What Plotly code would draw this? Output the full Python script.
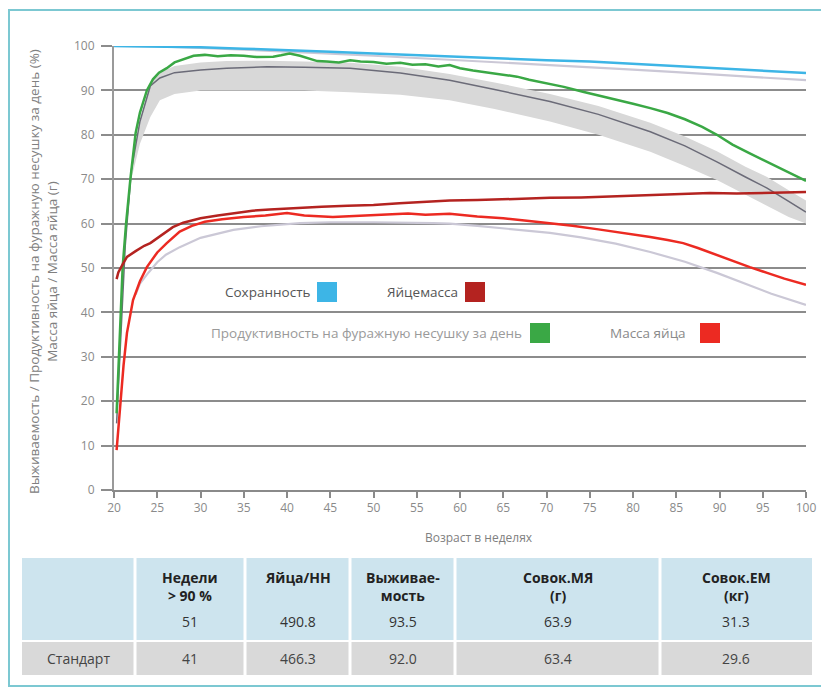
import plotly.graph_objects as go

# ---------------- data ----------------
weeks_viab = [20, 25, 30, 35, 40, 45, 50, 55, 60, 65, 70, 75, 80, 85, 90, 95, 100]
viability = [100, 99.9, 99.7, 99.4, 99.1, 98.7, 98.3, 97.9, 97.5, 97.1, 96.8, 96.5, 96.0, 95.5, 95.0, 94.5, 93.9]
std_viability = [100, 99.9, 99.6, 99.2, 98.8, 98.3, 97.8, 97.3, 96.8, 96.3, 95.8, 95.3, 94.7, 94.1, 93.5, 92.9, 92.3]

weeks_prod = [20.3, 20.6, 21.0, 21.4, 21.9, 22.5, 23.0, 23.8, 24.5, 25.2, 26.1, 27.0, 28.0, 29.2, 30.5,
              32, 33.5, 35, 36.5, 38.4, 39.3, 40.3, 41.5, 42.5, 43.5, 44.6, 46, 47.3, 48.5, 50,
              51.5, 53.1, 54.5, 56, 57.5, 58.8, 60, 61.5, 63, 64.5, 66.6, 68, 70, 72, 74.2,
              76, 78, 80, 82, 84, 86, 88, 89.7, 91.5, 93.5, 95.5, 97.5, 100]
production = [17.3, 30, 50.2, 60.1, 70.2, 80.4, 85, 90, 92.5, 94, 95, 96.3, 97, 97.8, 98,
              97.7, 97.9, 97.8, 97.5, 97.6, 97.9, 98.3, 97.8, 97.2, 96.6, 96.5, 96.3, 96.8, 96.5, 96.4,
              96.0, 96.2, 95.8, 95.9, 95.4, 95.7, 95.0, 94.5, 94.1, 93.8, 93.1, 92.4, 91.6, 90.8, 89.7,
              88.9, 88.0, 87.0, 86.0, 84.9, 83.5, 81.8, 80.0, 77.8, 75.8, 73.9, 71.9, 69.6]

weeks_std = [20.3, 20.8, 21.3, 22, 22.5, 23, 24.2, 25.3, 27, 30, 33, 37.7, 42, 47.3, 53.1, 58.8,
             64, 70.4, 76, 82, 86, 89.7, 93, 95.5, 98, 100]
std_production = [15, 35, 55, 72, 78, 83, 91, 92.8, 94, 94.6, 95, 95.3, 95.2, 95, 93.9, 92.3,
                  90.2, 87.5, 84.6, 80.7, 77.5, 73.9, 70.5, 68, 65, 62.6]
std_prod_high = [15, 35, 55, 72, 78, 83, 91.8, 94, 95.5, 96.3, 96.6, 96.7, 96.5, 96.2, 95.3, 93.7,
                 91.8, 89.2, 86.5, 82.7, 79.6, 76.3, 72.8, 70.5, 67.5, 65.2]
std_prod_low = [15, 35, 55, 70, 74, 78, 84, 87.8, 89.2, 90, 90, 90, 90, 89.6, 89, 87.8,
                85.8, 83, 80, 76.2, 73, 69.8, 66.5, 64, 61.5, 60]

weeks_em = [20.3, 20.5, 21, 21.5, 22.5, 23.5, 24.2, 25.5, 26.8, 28, 30, 32, 34, 36, 38, 40, 41.5,
            44, 47, 50, 53, 56, 58.8, 62, 65, 68, 70.4, 74, 78, 82, 85, 88.9, 92, 95, 97, 100]
egg_mass = [47.5, 49, 50.8, 52.5, 53.8, 55, 55.6, 57.5, 59.2, 60.2, 61.2, 61.8, 62.4, 62.9, 63.2, 63.4, 63.7,
            63.8, 64.0, 64.2, 64.6, 64.9, 65.2, 65.3, 65.5, 65.6, 65.8, 65.9, 66.2, 66.4, 66.6, 66.9, 66.8,
            66.9, 67.0, 67.1]

weeks_ew = [20.3, 20.5, 20.77, 21.1, 21.5, 22.2, 23, 23.8, 25, 26.1, 27.6, 29, 30.5, 32.5, 35, 37.5,
            40, 42, 45.3, 48, 51, 54, 56, 58.8, 62, 65, 68, 70.4, 73, 76, 79, 82, 84, 85.8, 87.5,
            89.7, 91.5, 93.5, 95.5, 97.5, 100]
egg_weight = [9, 14, 20.3, 28, 35.4, 42.8, 47, 50.2, 53.5, 55.6, 58.2, 59.5, 60.4, 61.0, 61.5, 61.8,
              62.4, 61.8, 61.5, 61.7, 62.0, 62.3, 62.0, 62.2, 61.6, 61.2, 60.6, 60.1, 59.5, 58.7, 57.9,
              57.0, 56.3, 55.6, 54.5, 52.9, 51.5, 50.2, 48.9, 47.6, 46.2]

weeks_sew = [22.5, 23, 24, 25, 26, 27.6, 30, 33.8, 37, 41.5, 45, 50, 56.9, 58.8, 62, 66, 70.4,
             74, 78, 82, 86, 89.7, 93, 96, 100]
std_egg_weight = [44, 46.5, 49, 51.3, 53, 54.7, 56.8, 58.6, 59.4, 60.1, 60.3, 60.3, 60.1, 60.0, 59.5,
                  58.8, 57.9, 56.9, 55.5, 53.6, 51.4, 48.9, 46.4, 44.2, 41.7]

x_ticks = list(range(20, 101, 5))
y_ticks = list(range(0, 101, 10))

legend_labels = ["Сохранность", "Яйцемасса", "Продуктивность на фуражную несушку за день", "Масса яйца"]

table_headers = ["", "Недели<br>> 90 %", "Яйца/НН", "Выживае-<br>мость", "Совок.МЯ<br>(г)", "Совок.ЕМ<br>(кг)"]
table_row_result = ["", "51", "490.8", "93.5", "63.9", "31.3"]
table_row_standard = ["Стандарт", "41", "466.3", "92.0", "63.4", "29.6"]

# ---------------- styles ----------------
C_CYAN = "#3db5e6"
C_GREEN = "#3aa845"
C_DARKRED = "#b42320"
C_RED = "#ec2a22"
C_STD = "#cbc8d6"
C_BAND = "#d8d8d8"
C_STDLINE = "#6b6b78"
FONT = "Open Sans"

# the page puts the figure 8 px from the top-left corner of the window
OFF = 8
W, H = 829 - OFF, 689 - OFF
L, R, T, B = 114 - OFF, 23, 46 - OFF, 199
PW, PH = W - L - R, H - T - B


def px(X):
    """screen x (window px) -> paper fraction"""
    return (X - OFF - L) / PW


def py(Y):
    """screen y (window px) -> paper fraction"""
    return (H - B - (Y - OFF)) / PH


fig = go.Figure()

# standard production band
fig.add_trace(go.Scatter(x=weeks_std, y=std_prod_low, mode="lines", line=dict(width=0),
                         hoverinfo="skip", showlegend=False))
fig.add_trace(go.Scatter(x=weeks_std, y=std_prod_high, mode="lines", line=dict(width=0),
                         fill="tonexty", fillcolor=C_BAND, hoverinfo="skip", showlegend=False))
fig.add_trace(go.Scatter(x=weeks_std, y=std_production, mode="lines",
                         line=dict(color=C_STDLINE, width=1.5), showlegend=False))
# standard lines
fig.add_trace(go.Scatter(x=weeks_viab, y=std_viability, mode="lines",
                         line=dict(color=C_STD, width=2.2), showlegend=False))
fig.add_trace(go.Scatter(x=weeks_sew, y=std_egg_weight, mode="lines",
                         line=dict(color=C_STD, width=2.2), showlegend=False))
# actual lines
fig.add_trace(go.Scatter(x=weeks_viab, y=viability, mode="lines",
                         line=dict(color=C_CYAN, width=2.5), name=legend_labels[0], showlegend=False))
fig.add_trace(go.Scatter(x=weeks_prod, y=production, mode="lines",
                         line=dict(color=C_GREEN, width=2.5), name=legend_labels[2], showlegend=False))
fig.add_trace(go.Scatter(x=weeks_em, y=egg_mass, mode="lines",
                         line=dict(color=C_DARKRED, width=2.5), name=legend_labels[1], showlegend=False))
fig.add_trace(go.Scatter(x=weeks_ew, y=egg_weight, mode="lines",
                         line=dict(color=C_RED, width=2.5), name=legend_labels[3], showlegend=False))

shapes = []
annotations = []

# frame
shapes.append(dict(type="rect", xref="paper", yref="paper", x0=px(9), x1=px(826), y0=py(686), y1=py(10),
                   line=dict(color="#7cc8d2", width=2), fillcolor="rgba(0,0,0,0)", layer="below"))

# custom legend
legend_items = [
    (legend_labels[0], C_CYAN, 312, 292, "#555555", 317),
    (legend_labels[1], C_DARKRED, 460, 292, "#555555", 465),
    (legend_labels[2], C_GREEN, 524, 333, "#9a9a9a", 530),
    (legend_labels[3], C_RED, 688, 333, "#8a8a8a", 700),
]
for text, col, xr, yc, tcol, x0 in legend_items:
    annotations.append(dict(x=px(xr), y=py(yc), xref="paper", yref="paper", text=text, showarrow=False,
                            xanchor="right", yanchor="middle", font=dict(family=FONT, size=13.5, color=tcol)))
    shapes.append(dict(type="rect", xref="paper", yref="paper", x0=px(x0), x1=px(x0 + 20),
                       y0=py(yc + 10), y1=py(yc - 10), line=dict(width=0), fillcolor=col))

# y-axis title
annotations.append(dict(x=px(43), y=py(272), xref="paper", yref="paper",
                        text="Выживаемость / Продуктивность на фуражную несушку за день (%)<br>Масса яйца / Масса яйца (г)",
                        showarrow=False, textangle=-90, xanchor="center", yanchor="middle",
                        font=dict(family=FONT, size=13.5, color="#808080")))
# x-axis title
annotations.append(dict(x=px(479), y=py(537), xref="paper", yref="paper", text="Возраст в неделях",
                        showarrow=False, xanchor="center", yanchor="middle",
                        font=dict(family=FONT, size=12, color="#808080")))

# table
col_edges = [22, 135, 245, 350, 455, 660, 812]
top_y, mid_y, bot_y = 558, 641, 675
for i in range(len(col_edges) - 1):
    x0, x1 = col_edges[i] + (0 if i == 0 else 1.5), col_edges[i + 1] - (0 if i == len(col_edges) - 2 else 1.5)
    shapes.append(dict(type="rect", xref="paper", yref="paper", x0=px(x0), x1=px(x1),
                       y0=py(mid_y - 1), y1=py(top_y), line=dict(width=0), fillcolor="#cde4ee"))
    shapes.append(dict(type="rect", xref="paper", yref="paper", x0=px(x0), x1=px(x1),
                       y0=py(bot_y), y1=py(mid_y + 1), line=dict(width=0), fillcolor="#d9d9d9"))
    cx = (col_edges[i] + col_edges[i + 1]) / 2
    if table_headers[i]:
        annotations.append(dict(x=px(cx), y=py(566), xref="paper", yref="paper",
                                text="<b>" + table_headers[i] + "</b>", showarrow=False,
                                xanchor="center", yanchor="top", align="center",
                                font=dict(family=FONT, size=14, color="#222222")))
    if table_row_result[i]:
        annotations.append(dict(x=px(cx), y=py(621), xref="paper", yref="paper", text=table_row_result[i],
                                showarrow=False, xanchor="center", yanchor="middle",
                                font=dict(family=FONT, size=14, color="#333333")))
    annotations.append(dict(x=px(cx), y=py(658), xref="paper", yref="paper", text=table_row_standard[i],
                            showarrow=False, xanchor="center", yanchor="middle",
                            font=dict(family=FONT, size=14, color="#444444")))

fig.update_layout(
    width=W, height=H,
    margin=dict(l=L, r=R, t=T, b=B),
    paper_bgcolor="white", plot_bgcolor="white",
    showlegend=False,
    shapes=shapes, annotations=annotations,
    xaxis=dict(range=[20, 100], tickvals=x_ticks, ticktext=[str(v) for v in x_ticks],
               showgrid=False, zeroline=False, showline=True, linecolor="#8a8a8a", linewidth=2,
               ticks="outside", ticklen=6, tickwidth=1.5, tickcolor="#8a8a8a",
               tickfont=dict(family=FONT, size=12, color="#8a8a8a")),
    yaxis=dict(range=[0, 100], tickvals=y_ticks, showgrid=True, gridcolor="#8c8c8c", gridwidth=1.5,
               zeroline=False, showline=True, linecolor="#9a9a9a", linewidth=2,
               ticks="outside", ticklen=11, tickwidth=1.5, tickcolor="#8c8c8c", ticklabelstandoff=4,
               tickfont=dict(family=FONT, size=12, color="#8a8a8a")),
)

fig.write_html("out.html")
